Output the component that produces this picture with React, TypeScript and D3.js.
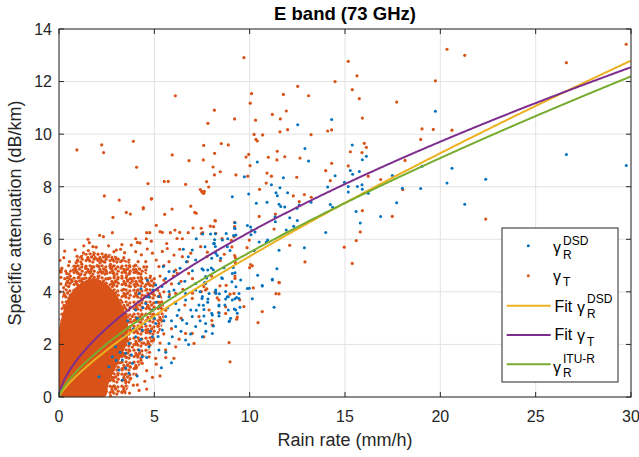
import React from 'react';
import * as d3 from 'd3';

const W = 639;
const H = 457;
const FONT = '"Liberation Sans", Arial, Helvetica, sans-serif';

const xTicks = [0, 5, 10, 15, 20, 25, 30];
const yTicks = [0, 2, 4, 6, 8, 10, 12, 14];
const titleText = 'E band (73 GHz)';
const xLabel = 'Rain rate (mm/h)';
const yLabel = 'Specific attenuation (dB/km)';

// gamma_R^DSD scatter (rain rate mm/h, attenuation dB/km)
const bluePts: [number, number][] = [
  [14.30,10.56],[12.52,10.36],[12.90,9.45],[13.09,8.98],[10.40,8.94],[9.72,8.38],[11.77,8.34],[11.14,8.07],[11.59,7.96],[11.38,7.77],[11.45,7.66],[11.99,7.77],[9.95,7.72],[9.09,7.62],[14.48,8.42],[14.09,7.99],[14.97,8.17],[15.17,8.01],[15.17,7.80],
  [15.38,9.59],[15.28,8.62],[15.40,8.47],[15.75,8.58],[15.91,9.03],[16.12,9.16],[15.65,8.01],[15.89,8.07],[15.91,7.90],[16.22,7.75],[17.48,8.43],[18.01,7.94],[18.97,7.93],[19.04,8.78],[19.74,10.87],[20.61,8.70],[20.35,8.14],[22.38,8.28],[21.28,7.33],[17.71,7.39],[15.58,7.06],[15.80,6.62],[16.87,6.87],[26.61,9.23],[29.75,8.81],
  [9.23,6.63],[9.21,6.42],[8.20,6.21],[7.95,6.20],[7.53,6.20],[7.20,6.02],[6.99,5.59],[6.52,5.62],[6.78,5.34],[7.17,5.21],[7.66,5.72],[8.11,5.84],[8.57,5.97],[8.83,5.72],[8.22,5.47],[8.01,5.28],[7.57,4.83],[7.69,4.58],[6.68,5.15],[6.35,4.90],[6.03,4.77],[5.77,4.77],[5.59,4.51],[5.47,4.96],[5.07,4.26],[4.63,4.45],[4.30,4.12],[4.58,3.81],[4.93,4.07],[7.17,4.32],[8.57,4.51],[9.09,4.70],[9.53,4.45],[9.88,4.13],[9.44,3.94],[8.22,4.07],[7.69,4.32],[7.17,4.07],[6.64,3.94],[6.03,4.07],[6.29,4.32],[5.77,3.81],[8.83,3.81],
  [10.35,7.37],[10.91,7.41],[11.54,7.33],[11.63,7.25],[11.84,7.23],[12.48,7.18],[12.60,7.30],[13.22,7.41],[14.23,7.32],[14.35,7.22],[13.99,6.26],[12.87,5.68],[11.54,5.58],[12.10,6.82],[12.50,6.71],[12.31,6.50],[11.92,6.35],[11.35,6.67],[11.33,6.86],[10.94,5.97],[10.87,5.90],[10.50,5.90],[10.24,5.57],[9.88,6.52],[10.05,6.47],[10.11,6.34],[10.28,6.28],[10.07,6.17],[8.77,6.22],[8.85,6.02],[9.23,6.41],[9.28,6.16],[9.16,6.14],[8.16,5.98],[8.15,5.84],[8.20,5.73],[8.97,5.57],[8.48,5.28],[8.30,5.38],[7.50,4.88],[7.80,4.83],[7.99,4.91],[8.09,4.84],[8.65,4.92],[9.23,4.73],[9.14,4.93],[9.28,4.19],[9.07,4.38],[8.53,4.54],[7.75,4.53],[7.64,4.36],[8.23,3.94],[8.41,3.93],[9.23,3.74],[9.32,3.79],[9.49,3.41],[8.88,3.81],[8.74,3.73],[7.81,3.73],[7.50,3.75],[7.57,3.49],[7.60,3.33],[8.39,3.46],[8.88,3.31],[9.19,3.35],[8.01,3.19],[7.60,3.08],[8.39,3.08],[9.35,3.19],[9.98,4.14],[10.14,3.74],[10.42,4.63],[10.66,4.22],[11.19,4.48],[11.43,4.88],[11.28,3.41],[8.95,2.90],[10.66,4.24],[11.19,4.45],
  [4.20,3.94],[5.24,3.82],[5.77,4.01],[6.12,3.56],[6.64,3.69],[7.34,3.50],[7.52,3.82],[7.87,3.94],[8.22,4.01],[8.39,3.50],[8.74,4.01],[9.09,3.69],[9.44,3.75],[9.27,3.31],[8.92,2.87],[8.04,2.42],[7.52,2.29],[6.64,2.17],[5.94,2.29],[5.42,2.55],[5.07,2.80],[4.72,2.93],[4.37,2.55],[4.02,2.29],[3.67,2.04],[3.50,1.66],[3.32,1.41],[3.15,1.03],[3.32,0.65],[5.24,3.44],[5.59,3.06],[6.12,2.68],[6.47,2.93],[6.99,3.06],[7.17,2.68],[7.69,2.80],[8.04,3.12],[5.77,2.04],[5.24,1.79],[4.72,1.91],[4.37,1.53],[3.85,1.28],[3.67,0.90],[4.20,1.79],[4.90,2.29],[5.37,1.11],[6.91,3.31],[6.29,3.31],[4.90,3.31],[4.55,3.56],[4.02,3.31],[2.62,1.15],[2.80,1.53],[2.10,0.77],[2.97,1.91],
  [3.4,2.3],[3.6,2.9],[3.9,2.6],[4.1,3.0],[4.3,2.2],[4.5,2.8],[4.8,2.5],[5.0,3.0],[5.2,2.3],[5.5,2.9],[5.7,3.4],[5.9,2.9],[6.2,3.1],[6.4,2.5],[6.7,2.8],[6.9,2.4],[7.2,3.3],[7.4,2.9],[7.8,3.6],[8.1,2.7],[8.4,3.2],[8.7,3.5],[9.0,3.0],[4.4,3.4],[4.7,3.8],[5.1,3.6],[5.4,4.2],[6.6,4.4],[7.0,4.8],[7.4,4.0],[3.2,1.7],[3.8,1.6],[4.6,1.5],[5.6,1.7],[6.8,2.0],[7.7,2.5],[3.0,1.4],[3.5,1.1],[4.1,0.8],[5.9,1.3]
];

// gamma_T scatter
const orangePts: [number, number][] = [
  [9.70,12.91],[15.17,12.77],[14.48,12.0],[6.10,11.46],[10.10,11.54],[12.52,11.82],[11.77,11.51],[13.09,11.46],[10.03,11.18],[8.15,10.91],[11.19,10.75],[11.92,10.88],[9.21,10.58],[10.31,10.53],[11.61,10.58],[7.81,10.41],[11.99,10.17],[11.59,10.09],[14.09,10.12],[14.30,10.16],[13.22,9.98],[10.23,9.99],[10.68,9.97],[10.33,9.80],[10.40,9.74],[0.94,9.40],[2.24,9.59],[2.34,9.30],[3.90,9.73],[4.07,8.74],[7.59,9.57],[8.16,9.27],[8.51,9.64],[8.88,9.59],[5.94,9.21],[6.82,8.99],[7.57,9.02],[9.95,9.23],[9.81,9.13],[11.45,9.35],[11.84,9.14],[11.43,9.02],[10.98,9.12],[12.64,9.09],[10.02,8.80],[8.08,8.75],[8.46,8.57],[8.15,8.45],[9.28,8.45],[9.90,8.40],[10.91,8.52],[11.14,8.40],[12.47,8.36],[13.99,8.61],[14.30,8.89],[14.23,8.23],[15.17,8.79],[4.67,8.12],[5.52,8.20],[5.73,8.20],[6.64,8.09],[7.74,8.19],[7.85,7.99],[7.41,7.89],[7.62,7.82],[7.55,7.76],[10.52,7.90],[10.87,8.14],[12.29,7.65],[12.87,7.70],[2.38,7.65],[4.86,7.55],
  [15.63,12.22],[15.38,11.69],[15.75,11.35],[15.91,10.61],[16.01,9.65],[16.12,9.50],[15.28,9.33],[15.89,9.30],[16.22,8.40],[16.87,8.27],[17.71,11.22],[19.74,12.03],[20.35,13.23],[21.28,13.00],[19.04,10.20],[19.63,10.18],[20.61,10.15],[18.97,9.80],[18.15,9.00],[18.03,7.89],[17.48,6.87],[15.91,7.09],[22.38,6.77],[26.61,12.72],[29.75,13.42],
  [3.16,7.49],[4.42,7.16],[4.42,7.21],[3.53,7.02],[3.74,6.96],[2.83,6.83],[5.54,6.95],[4.84,7.53],[5.93,7.15],[6.91,7.26],[7.12,7.02],[7.20,6.99],[7.48,7.82],[7.59,7.75],[5.10,6.53],[2.80,6.25],[2.13,6.15],[2.33,6.10],[1.52,6.00],[1.59,5.87],[1.78,5.72],[4.02,6.02],[4.11,5.88],[4.25,5.86],[4.60,6.25],[4.76,6.25],[4.58,6.02],[4.84,5.93],[5.30,6.29],[5.42,6.26],[5.65,5.84],[5.84,6.25],[6.08,6.35],[6.33,6.26],[6.78,6.25],[7.03,6.43],[7.47,6.22],[8.11,6.48],[8.20,6.70],[6.19,6.03],[6.47,6.02],[0.35,4.79],[0.12,4.82],[0.24,4.16],[0.73,4.83],[0.87,4.96],[0.98,5.21],[1.17,5.34],[1.28,5.48],[1.54,5.57],[1.84,5.47],[2.01,5.25],[2.36,5.15],[2.59,5.34],[2.88,5.53],[3.01,5.59],[3.23,5.62],[3.44,5.49],[3.79,5.78],[4.02,5.53],[4.32,5.41],[4.63,5.63],[4.90,5.47],[5.10,5.21],[5.42,5.54],[5.68,5.65],[6.03,5.40],[6.33,5.62],[6.47,5.34],[6.73,5.15],[6.91,5.47],[3.67,5.21],[3.23,5.15],[2.80,4.96],[2.45,4.83],[2.10,4.96],[1.66,4.77],[1.40,4.90],[1.10,4.64],[3.50,4.83],[4.02,5.02],[4.55,4.83],[5.24,4.96],[5.77,5.15],[6.12,4.83],[4.55,5.15],
  [10.50,6.87],[11.35,6.96],[13.23,7.60],[12.60,7.43],[11.28,6.39],[12.10,5.77],[12.90,5.14],[14.96,5.70],[15.38,5.08],[15.59,5.95],[15.80,6.28],[11.55,4.35],[11.38,3.93],[11.54,3.92],[10.19,4.15],[10.66,3.25],[10.44,2.83],[10.05,5.04],[10.14,4.99],[10.00,4.92],[9.86,5.68],[9.98,5.97],[9.21,6.64],[9.21,6.48],[8.18,6.71],[7.94,6.50],[8.22,6.23],[8.55,6.03],[9.18,6.10],[9.04,5.96],[9.07,5.71],[8.67,5.43],[9.21,5.38],[9.25,5.30],[9.25,5.11],[8.46,5.19],[7.78,5.51],[7.76,5.34],[7.43,5.72],[7.54,6.25],[7.46,6.42],[9.23,4.60],[9.23,4.51],[8.44,4.23],[8.77,4.25],[7.75,4.11],[7.68,4.07],[7.46,4.01],[8.18,3.98],[8.30,3.77],[8.97,3.91],[9.48,3.69],[8.74,3.43],[8.37,3.21],[9.35,3.04],[9.32,2.96],[8.02,2.91],[8.06,2.73],[11.54,4.36],
  [8.92,2.07],[8.97,1.34],[7.60,2.29],[8.04,2.74],[6.99,2.42],[7.08,2.04],[6.03,1.47],[5.07,1.47],[4.72,1.53],[4.11,0.46],[3.76,0.71],[2.80,0.39],[2.45,0.27],[2.10,0.14],[1.75,0.04],[2.80,1.03],[3.32,1.03],[4.02,1.15],[4.37,1.28],[5.59,1.79],[6.12,1.91],[6.64,2.42],[7.34,3.06],[7.87,3.31],[8.74,3.18],[9.18,3.94],[9.70,3.44],[8.39,3.69],[6.99,3.75],[6.12,3.94],[5.24,2.80],[4.55,2.55],[4.20,2.17],[3.67,1.79],[3.50,2.42],[3.85,3.06],[3.32,3.31],[4.37,3.69],[4.90,3.94],[4.02,3.94],[3.15,2.80],[2.97,2.29],[3.23,3.69],
  [0.1,4.3],[0.3,4.5],[0.5,4.2],[0.6,4.6],[0.9,4.4],[1.1,4.2],[1.3,4.5],[1.5,4.3],[1.7,4.6],[1.9,4.4],[2.1,4.6],[2.3,4.3],[2.6,4.5],[2.8,4.2],[3.0,4.4],[3.3,4.6],[3.5,4.3],[3.8,4.5],[4.0,4.2],[4.3,4.4],[0.05,4.0],[0.02,4.8],[0.1,4.75],[4.6,4.1],[4.8,4.6],[5.0,4.3],[5.3,4.6],[5.6,4.35],[6.0,4.6],[6.4,4.4],[6.8,4.7],[1.4,4.9],[2.0,5.0],[2.7,4.9],[3.9,4.85],[4.6,4.95],[5.5,5.0],[0.9,5.1],[0.5,5.0],
  [4.5,4.2],[5.0,4.5],[5.9,4.3],[6.5,4.1],[7.0,4.5],[7.6,4.2],[8.0,4.6],[6.2,4.7],[5.5,4.0],[0.7,4.4],[1.0,4.7],[1.8,4.2],[2.5,4.7],[3.4,4.1],[3.7,4.7],[4.2,4.7],[1.2,4.4],[2.0,4.45],[2.9,4.6],[0.45,4.55],
  [0.05,5.2],[0.15,4.9],[0.25,5.3],[0.4,4.7],[0.55,5.15],[0.65,4.45],[0.8,4.85],[0.95,5.35],[1.05,4.55],[1.2,5.05],[1.35,4.65],[1.5,5.25],[1.6,4.5],[1.75,4.95],[1.9,5.3],[2.05,4.6],[2.15,5.1],[2.3,4.75],[2.45,5.35],[2.55,4.5],[2.7,5.05],[2.85,4.7],[3.0,5.25],[3.1,4.55],[3.25,4.9],[3.4,5.3],[3.55,4.6],[3.7,5.0],[3.85,4.4],[4.0,4.75],[4.15,5.15],[4.3,4.55],[4.45,4.95],[0.3,5.55],[0.85,5.6],[1.3,5.75],[1.95,5.7],[2.6,5.75],[3.3,5.8],[0.1,4.55],[0.45,4.35],[1.85,4.55],[2.9,4.35],[3.6,4.45],
  [3.3,0.2],[3.5,0.55],[3.7,0.15],[3.9,0.45],[4.2,0.25],[4.5,0.6],[3.45,0.85],[3.75,1.15],[4.05,0.85],[4.3,1.4],[4.6,1.0],[4.9,0.75],[3.55,1.5],[3.85,1.9],[4.15,1.6],[4.45,2.05],[4.75,1.7],[5.1,1.25],[3.5,2.2],[3.75,2.55],[4.0,2.0],[4.25,2.85],[4.6,2.45],[4.95,2.15],[5.3,2.05],[3.55,3.05],[3.8,2.85],[4.05,3.5],[4.35,3.15],[4.65,3.45],[4.95,3.15],[5.3,3.6],[5.6,3.3],[3.5,3.9],[3.75,4.2],[4.1,4.05],[4.5,3.85],[4.8,4.25],[5.15,4.1],[5.5,4.45],[5.8,3.9],[6.1,3.6],[6.4,3.0],[5.9,2.6],[5.5,2.4],[6.6,3.5],[7.0,3.95],[5.2,2.7],[4.0,1.1],[3.6,1.2],[4.6,0.3],[5.3,0.8],[5.6,1.5],[6.3,2.2],[2.2,0.2],[2.5,0.6],[2.7,0.05],[2.9,0.4],[3.1,0.9],[2.9,0.75],[3.2,1.3],[3.3,1.65],[3.4,0.35]
];

// solid core of the gamma_T cloud (outline)
const orangeCore: [number, number][] = [
  [0,0],[0,2.5],[0.2,3.2],[0.5,3.8],[1.0,4.25],[1.7,4.5],[2.4,4.35],[2.9,4.0],[3.3,3.5],[3.6,2.9],[3.6,2.2],[3.3,1.6],[2.9,1.0],[2.6,0.5],[2.4,0]
];
// dense (speckled) zone around the core (outline)
const orangeDense: [number, number][] = [
  [0,2.3],[0.1,3.5],[0.3,4.3],[0.6,4.9],[1.1,5.35],[1.8,5.55],[2.6,5.45],[3.5,5.2],[4.4,4.85],[5.1,4.3],[5.5,3.5],[5.4,2.7],[4.9,2.0],[4.4,1.4],[3.9,0.8],[3.6,0.3],[3.4,0],[1.5,0]
];

// power-law fits A = k * R^alpha
const fitNames = ['Fit DSD', 'Fit T', 'ITU-R'];
const fitK = [0.861, 1.467, 1.036];
const fitAlpha = [0.7935, 0.631, 0.725];
const fitColors = ['#EDB120', '#7E2F8E', '#77AC30'];
const rainGrid = d3.range(0, 30.0001, 0.05);

const BLUE = '#0072BD';
const ORANGE = '#D95319';
const AXIS = '#262626';

const speckleDots: [number, number][] = [
  [2.0,2.2],[6.1,1.8],[9.8,2.9],[3.9,5.4],[7.6,5.0],[10.2,7.2],[2.1,8.6],[5.8,9.0],[8.9,10.1],[4.5,7.4]
];

export default function App() {
  const x = d3.scaleLinear().domain([0, 30]).range([59, 631]);
  const y = d3.scaleLinear().domain([0, 14]).range([397, 29]);
  const line = d3.line<[number, number]>().x(d => x(d[0])).y(d => y(d[1])).curve(d3.curveCatmullRomClosed);
  const plain = d3.line<[number, number]>().x(d => x(d[0])).y(d => y(d[1]));
  const [x0, x1] = x.range();
  const [y0, y1] = y.range();

  const lx0 = 502, ly0 = 228, lw = 116, lh = 154;
  const rows = [245.7, 275.7, 305.7, 335, 364.3];

  return (
    <svg width={W} height={H} style={{ position: 'absolute', left: 0, top: 0, background: '#fff' }} fontFamily={FONT}>
      <rect x={0} y={0} width={W} height={H} fill="#fff" />
      <defs>
        <clipPath id="plotclip"><rect x={x0} y={y1} width={x1 - x0} height={y0 - y1} /></clipPath>
        <pattern id="speckle" width={12} height={12} patternUnits="userSpaceOnUse">
          {speckleDots.map((p, i) => <circle key={i} cx={p[0]} cy={p[1]} r={1.65} fill={ORANGE} />)}
        </pattern>
      </defs>
      {xTicks.map(t => (
        <line key={'gx' + t} x1={x(t)} x2={x(t)} y1={y0} y2={y1} stroke="#e3e3e3" strokeWidth={1} />
      ))}
      {yTicks.map(t => (
        <line key={'gy' + t} x1={x0} x2={x1} y1={y(t)} y2={y(t)} stroke="#e3e3e3" strokeWidth={1} />
      ))}
      <g clipPath="url(#plotclip)">
        <path d={line(orangeDense) || ''} fill="url(#speckle)" />
        <path d={line(orangeCore) || ''} fill={ORANGE} />
        {orangePts.map((d, i) => (
          <circle key={'o' + i} cx={x(d[0])} cy={y(d[1])} r={1.6} fill={ORANGE} />
        ))}
        {bluePts.map((d, i) => (
          <circle key={'b' + i} cx={x(d[0])} cy={y(d[1])} r={1.5} fill={BLUE} />
        ))}
        {fitNames.map((n, i) => (
          <path key={n} d={plain(rainGrid.map(r => [r, fitK[i] * Math.pow(r, fitAlpha[i])] as [number, number])) || ''}
            fill="none" stroke={fitColors[i]} strokeWidth={2} />
        ))}
      </g>
      <rect x={x0} y={y1} width={x1 - x0} height={y0 - y1} fill="none" stroke={AXIS} strokeWidth={1} />
      {xTicks.map(t => (
        <g key={'tx' + t}>
          <line x1={x(t)} x2={x(t)} y1={y0} y2={y0 - 5} stroke={AXIS} />
          <line x1={x(t)} x2={x(t)} y1={y1} y2={y1 + 5} stroke={AXIS} />
          <text x={x(t)} y={422} textAnchor="middle" fontSize={16} fill={AXIS}>{t}</text>
        </g>
      ))}
      {yTicks.map(t => (
        <g key={'ty' + t}>
          <line x1={x0} x2={x0 + 5} y1={y(t)} y2={y(t)} stroke={AXIS} />
          <line x1={x1} x2={x1 - 5} y1={y(t)} y2={y(t)} stroke={AXIS} />
          <text x={52} y={y(t) + 5.8} textAnchor="end" fontSize={16} fill={AXIS}>{t}</text>
        </g>
      ))}
      <text x={(x0 + x1) / 2} y={446} textAnchor="middle" fontSize={18} fill={AXIS}>{xLabel}</text>
      <text transform={`translate(21,${(y0 + y1) / 2}) rotate(-90)`} textAnchor="middle" fontSize={18} fill={AXIS}>{yLabel}</text>
      <text x={(x0 + x1) / 2} y={20} textAnchor="middle" fontSize={18.5} fontWeight="bold" fill="#000">{titleText}</text>

      <rect x={lx0} y={ly0} width={lw} height={lh} fill="#fff" stroke={AXIS} strokeWidth={1} />
      <circle cx={528.3} cy={rows[0]} r={1.5} fill={BLUE} />
      <circle cx={528.3} cy={rows[1]} r={1.5} fill={ORANGE} />
      {[2, 3, 4].map((ri, i) => (
        <line key={'ll' + ri} x1={506.7} x2={550.7} y1={rows[ri]} y2={rows[ri]} stroke={fitColors[i]} strokeWidth={2} />
      ))}
      <g fill="#000">
        <text x={553} y={rows[0] + 7.6} fontSize={16}>γ</text>
        <text x={563} y={rows[0] - 0.7} fontSize={12}>DSD</text>
        <text x={563} y={rows[0] + 13.3} fontSize={12}>R</text>

        <text x={553} y={rows[1] + 6} fontSize={16}>γ</text>
        <text x={563} y={rows[1] + 10} fontSize={12}>T</text>

        <text x={554.5} y={rows[2] + 5.8} fontSize={16}>Fit</text>
        <text x={577} y={rows[2] + 7} fontSize={16}>γ</text>
        <text x={587} y={rows[2] - 2.4} fontSize={12}>DSD</text>
        <text x={587} y={rows[2] + 12.3} fontSize={12}>R</text>

        <text x={554.5} y={rows[3] + 5} fontSize={16}>Fit</text>
        <text x={577} y={rows[3] + 6} fontSize={16}>γ</text>
        <text x={587} y={rows[3] + 10.5} fontSize={12}>T</text>

        <text x={553} y={rows[4] + 8.7} fontSize={16}>γ</text>
        <text x={563} y={rows[4] - 1} fontSize={12}>ITU-R</text>
        <text x={563} y={rows[4] + 12.4} fontSize={12}>R</text>
      </g>
    </svg>
  );
}
